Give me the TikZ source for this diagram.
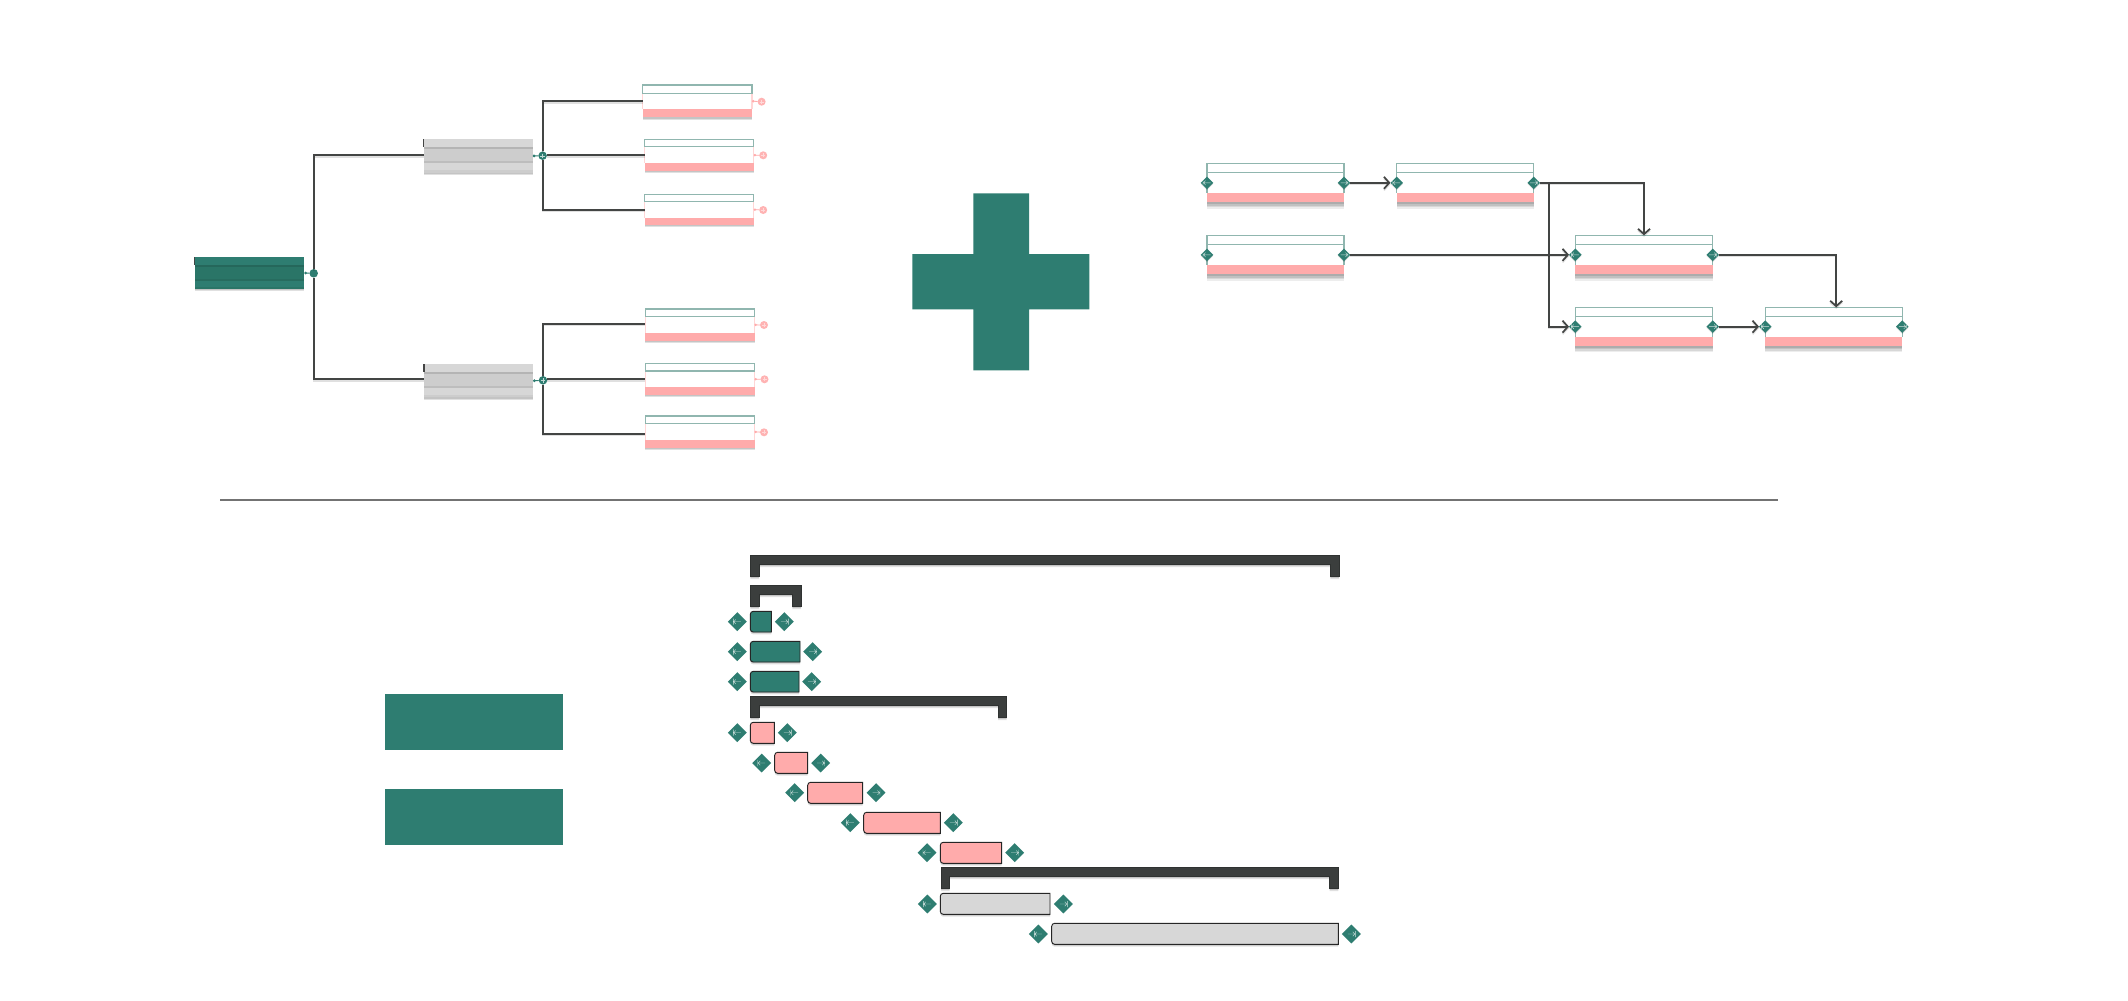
\documentclass[tikz,border=0pt]{standalone}
\usetikzlibrary{arrows.meta,shapes.geometric,calc}
\definecolor{teal}{HTML}{2E7D71}
\definecolor{tealdark}{HTML}{2A7567}
\definecolor{pinkfill}{HTML}{FFABAB}
\definecolor{pinkedge}{HTML}{FFD6D6}
\definecolor{greyfill}{HTML}{D7D7D7}
\definecolor{greydark}{HTML}{CDCDCD}
\definecolor{ink}{HTML}{434544}
\definecolor{hdr}{HTML}{90B6AF}
\definecolor{darkbar}{HTML}{3B3E3D}
\tikzset{
  shadowS/.style={preaction={fill=black,opacity=.12,transform canvas={yshift=-.9pt}},
                  preaction={fill=black,opacity=.12,transform canvas={yshift=-1.8pt}}},
  shadowL/.style={preaction={fill=black,opacity=.10,transform canvas={yshift=-1.2pt}},
                  preaction={fill=black,opacity=.10,transform canvas={yshift=-2.4pt}},
                  preaction={fill=black,opacity=.09,transform canvas={yshift=-3.6pt}},
                  preaction={fill=black,opacity=.07,transform canvas={yshift=-4.8pt}}},
  conn/.style={draw=ink,line width=1.5pt,line join=miter,
               preaction={draw=black,opacity=.12,line width=1.5pt,transform canvas={yshift=-1.2pt}}},
  arrowed/.style={conn,-{Straight Barb[length=4pt,width=9pt,line width=1.3pt]}},
  sidegreen/.style={draw=hdr,line width=.8pt},
  sidepink/.style={draw=pinkedge,line width=1pt},
  headbox/.style={draw=hdr,line width=.8pt},
  startmark/.style={path picture={\begin{scope}[shift={(path picture bounding box.center)},scale=#1]
     \draw[white!75!teal,line width=.3pt] (-4,-3)--(-4,3) (-3.5,0)--(3.5,0) (-1.5,-2.2)--(-3.5,0)--(-1.5,2.2);\end{scope}}},
  endmark/.style={path picture={\begin{scope}[shift={(path picture bounding box.center)},scale=#1]
     \draw[white!75!teal,line width=.3pt] (4,-3)--(4,3) (-3.5,0)--(3.5,0) (1.5,-2.2)--(3.5,0)--(1.5,2.2);\end{scope}}},
  pluslight/.style={path picture={\begin{scope}[shift={(path picture bounding box.center)}]
     \draw[white!70!teal,line width=.3pt] (-2.2,0)--(2.2,0) (0,-2.2)--(0,2.2);\end{scope}}},
  pluspink/.style={path picture={\begin{scope}[shift={(path picture bounding box.center)}]
     \draw[white!55!pinkfill,line width=.3pt] (-2,0)--(2,0) (0,-2)--(0,2);\end{scope}}},
  gdiam/.style={diamond,aspect=1,fill=teal,inner sep=0pt,outer sep=0pt,minimum width=14.2pt,minimum height=14.2pt},
  pdiam/.style={diamond,aspect=1,fill=teal,inner sep=0pt,outer sep=0pt,minimum width=9.4pt,minimum height=9.4pt,
     preaction={fill=black,opacity=.12,transform canvas={yshift=-.8pt}}},
  tealdot/.style={circle,fill=teal,inner sep=0pt,outer sep=0pt,minimum size=6.4pt},
  pinkdot/.style={circle,fill=pinkfill!90!white,inner sep=0pt,outer sep=0pt,minimum size=6pt},
  tealstub/.style={draw=teal,line width=.7pt,{Circle[length=2pt]}-},
  pinkstub/.style={draw=pinkfill,line width=.6pt,{Circle[length=1.8pt]}-},
  taskteal/.style={fill=teal,draw=black!85,line width=.7pt,shadowS},
  taskpink/.style={fill=pinkfill,draw=black!85,line width=.7pt,shadowS},
  taskgrey/.style={fill=greyfill,draw=black!85,line width=.7pt,shadowS},
  bigmark/.style={fill=teal},
  sumbar/.style={fill=darkbar,draw=darkbar!80!black,line width=.4pt,shadowS},
}
\newcommand{\boxat}[6]{\node[#2,rectangle,inner sep=0pt,outer sep=0pt,
  minimum width={(#5-#3)*.75pt},minimum height={(#6-#4)*.75pt}] (#1) at ({(#3+#5)/2},{(#4+#6)/2}) {};}
% name, side style, shadow style, x1 y1 x2 y2, header y, pink y
\newcommand{\leafbox}[9]{%
  \boxat{#1}{fill=white,#3}{#4}{#5}{#6}{#7}
  \fill[pinkfill] (#4,#9) rectangle (#6,#7);
  \draw[#2] (#4,#8)--(#4,#9) (#6,#8)--(#6,#9);
  \draw[headbox] (#4,#8)--(#4,#5)--(#6,#5)--(#6,#8)--cycle;}
% name, base colour, dark colour, x1 y1 x2 y2
\newcommand{\bandbox}[7]{%
  \boxat{#1}{fill=#2,shadowS}{#4}{#5}{#6}{#7}
  \fill[#3] (#4,{#5+8}) rectangle (#6,{#5+24});
  \fill[#3!88!black] (#4,{#5+8}) rectangle (#6,{#5+10});
  \fill[#3!92!black] (#4,{#5+22}) rectangle (#6,{#5+24});
  \fill[#3] (#4,{#7-2.5}) rectangle (#6,#7);
  \draw[ink,line width=.8pt] (#4,#5)--(#4,{#5+8});}
\newcommand{\summary}[3]{%
  \path[sumbar] (#1,#3) -- (#2,#3) -- (#2,{#3+21}) -- ({#2-8.7},{#3+21}) -- ({#2-8.7},{#3+9})
     -- ({#1+8.7},{#3+9}) -- ({#1+8.7},{#3+21}) -- (#1,{#3+21}) -- cycle;}
\newcommand{\task}[5]{%
  \path[#1] (#4,#3) -- (#4,#5) [rounded corners=2.2pt] -- (#2,#5) -- (#2,#3) [sharp corners] -- cycle;}
\begin{document}
\begin{tikzpicture}[x=.75pt,y=-.75pt]
\useasboundingbox (0,0) rectangle (2128,1000);
\fill[white] (0,0) rectangle (2128,1000);

%% ---- tree ----
\bandbox{root}{teal}{tealdark}{194.7}{257}{304.3}{289}
\bandbox{b1}{greyfill}{greydark}{423.6}{139.3}{532.7}{172.7}
\bandbox{b2}{greyfill}{greydark}{424}{364.3}{533}{397.3}
\node[tealdot] (rc) at (313.7,273.3) {};
\node[tealdot,pluslight] (p1) at (542.6,155.7) {};
\node[tealdot,pluslight] (p2) at (543,380.3) {};
\leafbox{l1}{sidepink}{shadowS}{642.6}{85}{752}{117.3}{93.3}{109.3}
\leafbox{l2}{sidepink}{shadowS}{644.6}{139.3}{753.7}{171}{146.7}{163}
\leafbox{l3}{sidepink}{shadowS}{644.6}{194.3}{753.7}{225}{201.7}{218}
\leafbox{l4}{sidepink}{shadowS}{645.4}{309}{754.5}{340.7}{316.3}{332.7}
\leafbox{l5}{sidepink}{shadowS}{645.4}{363.3}{754.5}{395}{371}{387}
\leafbox{l6}{sidepink}{shadowS}{645.4}{416}{754.5}{447.7}{423.7}{439.7}
\node[pinkdot,pluspink] (c1) at (761.6,101.7) {};
\node[pinkdot,pluspink] (c2) at (763.2,155.3) {};
\node[pinkdot,pluspink] (c3) at (763.2,210) {};
\node[pinkdot,pluspink] (c4) at (764,325) {};
\node[pinkdot,pluspink] (c5) at (764.5,379.3) {};
\node[pinkdot,pluspink] (c6) at (764,432.3) {};
\draw[conn] (rc) |- ([yshift=.75pt]b1.west);
\draw[conn] (rc) |- ([yshift=1.1pt]b2.west);
\draw[conn] (p1) |- (l1.west);
\draw[conn] (p1.east |- l2.west) -- (l2.west);
\draw[conn] (p1) |- (l3.west);
\draw[conn] (p2) |- ([yshift=.9pt]l4.west);
\draw[conn] (p2.east |- l5.west) -- (l5.west);
\draw[conn] (p2) |- ([yshift=-1.35pt]l6.west);
\draw[tealstub] (root.east) -- (rc);
\draw[tealstub] (b1.east) -- (p1);
\draw[tealstub] (b2.east) -- (p2);
\foreach \n/\m in {l1/c1,l2/c2,l3/c3,l4/c4,l5/c5,l6/c6}{\draw[pinkstub] (\n.east) -- (\m);}

%% ---- plus sign ----
\path[bigmark] (973.3,193.3) -- (1029,193.3) -- (1029,254) -- (1089.3,254) -- (1089.3,309.3) -- (1029,309.3)
  -- (1029,370.3) -- (973.3,370.3) -- (973.3,309.3) -- (912.3,309.3) -- (912.3,254) -- (973.3,254) -- cycle;

%% ---- network ----
\leafbox{A}{sidegreen}{shadowL}{1207}{163.3}{1344}{202.3}{172.3}{192.7}
\leafbox{B}{sidegreen}{shadowL}{1396.7}{163.3}{1533.7}{202.3}{172.3}{192.7}
\leafbox{C}{sidegreen}{shadowL}{1207}{235.3}{1344}{274.3}{244.3}{265}
\leafbox{D}{sidegreen}{shadowL}{1575.3}{235.3}{1712.7}{274.3}{244.3}{265}
\leafbox{E}{sidegreen}{shadowL}{1575.3}{307.3}{1712.7}{346}{316.3}{337}
\leafbox{F}{sidegreen}{shadowL}{1765.3}{307.3}{1902.3}{346}{316.3}{337}
\foreach \n in {A,B,C,D,E,F}{
  \node[pdiam,startmark=.5] (\n l) at (\n.west) {};
  \node[pdiam,endmark=.5] (\n r) at (\n.east) {};
}
\coordinate (J) at (1548.7,182.8);
\draw[arrowed] (Ar) -- (Bl);
\draw[arrowed] (Br) -| (D.north);
\draw[arrowed] (J) |- (El);
\draw[arrowed] (Cr) -- (Dl);
\draw[arrowed] (Dr) -| ([xshift=1.8pt]F.north);
\draw[arrowed] (Er) -- (Fl);

%% ---- divider ----
\coordinate (divL) at (220.3,500);
\coordinate (divR) at (1778,500);
\draw[black!55,line width=1.4pt] (divL) -- (divR);

%% ---- equals sign ----
\fill[bigmark] (385.3,694.3) rectangle (562.7,750);
\fill[bigmark] (385.3,789) rectangle (562.7,844.7);

%% ---- gantt ----
\summary{750.3}{1339}{555.7}
\summary{750.3}{801}{585.7}
\summary{750.3}{1006.7}{696.7}
\summary{941}{1338.3}{867.7}
\task{taskteal}{750.3}{611.3}{771.3}{632}
\task{taskteal}{750.3}{641.3}{800}{662}
\task{taskteal}{750.3}{671.3}{799}{692}
\task{taskpink}{750.3}{722.3}{774.3}{743.3}
\task{taskpink}{774.7}{752.3}{807.7}{773.3}
\task{taskpink}{807.7}{782.3}{862.7}{803.3}
\task{taskpink}{863.7}{812.3}{940.3}{833.3}
\task{taskpink}{940.3}{842.3}{1001.7}{863.3}
\task{taskgrey}{940.3}{893.3}{1050}{914.3}
\task{taskgrey}{1051.7}{923.3}{1338.3}{944.3}
\foreach \i/\xa/\xb/\yy in {1/737.3/784.3/621.7,2/737.3/812.7/651.7,3/737.3/811.7/681.7,
  4/737.3/787.3/732.7,5/761.7/820.7/763,6/794.7/876/792.7,7/850.3/953.3/822.7,
  8/927/1014.7/852.7,9/927.3/1063.3/904,10/1038.3/1351.3/934}{
  \node[gdiam,startmark=1] (gs\i) at (\xa,\yy) {};
  \node[gdiam,endmark=1] (ge\i) at (\xb,\yy) {};
}
\end{tikzpicture}
\end{document}
